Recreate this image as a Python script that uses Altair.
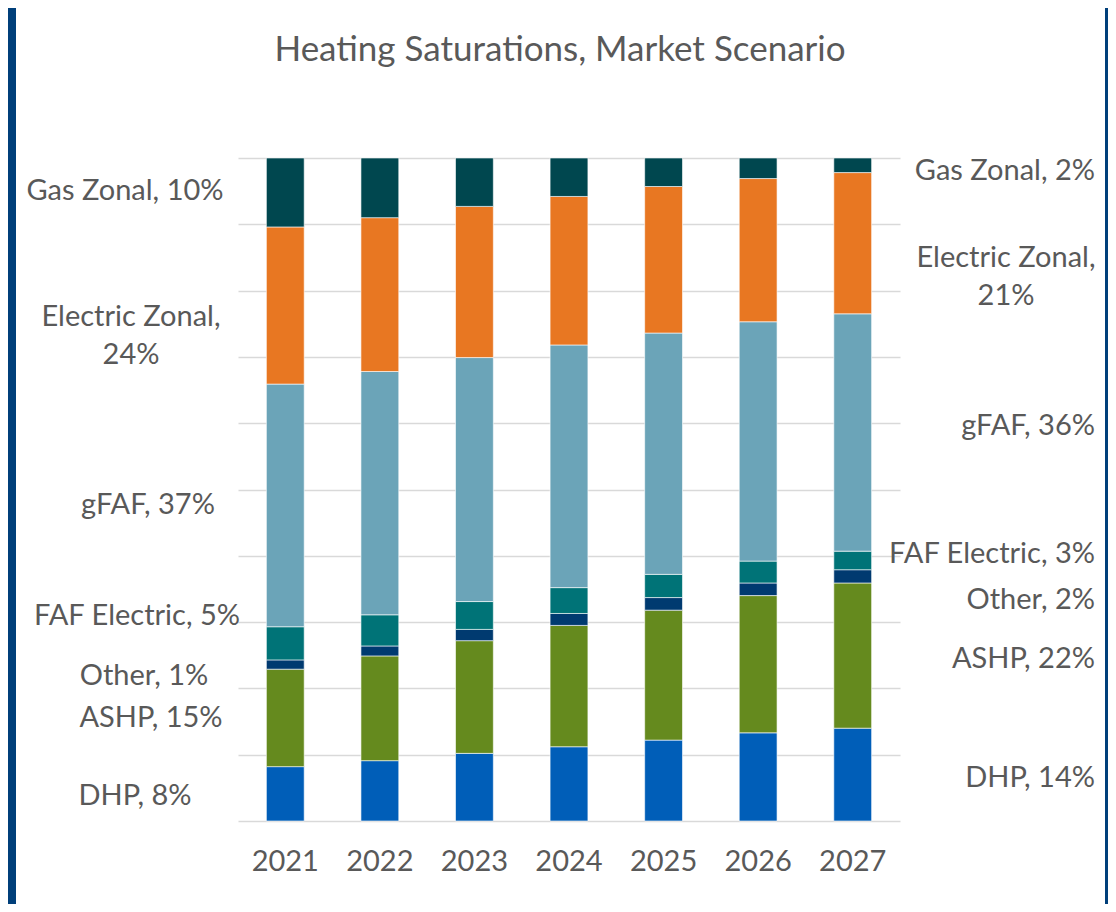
import altair as alt
import pandas as pd

# ---------------- data ----------------
years = ["2021", "2022", "2023", "2024", "2025", "2026", "2027"]
categories = ["DHP", "ASHP", "Other", "FAF Electric", "gFAF", "Electric Zonal", "Gas Zonal"]
dhp = [8.2, 9.1, 10.2, 11.2, 12.2, 13.3, 14.0]
ashp = [14.7, 15.8, 17.0, 18.3, 19.6, 20.7, 21.9]
other = [1.4, 1.5, 1.7, 1.8, 1.9, 1.9, 2.0]
faf_electric = [5.0, 4.7, 4.2, 3.9, 3.5, 3.3, 2.8]
gfaf = [36.6, 36.7, 36.8, 36.6, 36.4, 36.1, 35.8]
electric_zonal = [23.7, 23.2, 22.8, 22.4, 22.1, 21.6, 21.3]
gas_zonal = [10.4, 9.0, 7.3, 5.8, 4.3, 3.1, 2.2]
colors = ["#005EB8", "#658A1E", "#003A70", "#007377", "#6BA4B8", "#E87722", "#00474F"]
title_text = "Heating Saturations, Market Scenario"

series = [dhp, ashp, other, faf_electric, gfaf, electric_zonal, gas_zonal]

# ---------------- layout constants ----------------
TEXT = "#595959"
FONT = "Lato"
PLOT_W, PLOT_H = 662, 663
PAD = {"left": 230, "top": 150, "right": 208, "bottom": 83}
BORDER = "#003F7A"
# label nudges (percentage points) relative to segment midpoints
left_nudge = {"Gas Zonal": 0.2, "Electric Zonal": -1.75, "gFAF": 0.1, "FAF Electric": 4.1,
              "Other": -1.8, "ASHP": 0.0, "DHP": -0.4}
right_nudge = {"Gas Zonal": -0.8, "Electric Zonal": -2.2, "gFAF": 1.05, "FAF Electric": 0.9,
               "Other": -3.5, "ASHP": -0.45, "DHP": -0.5}
# horizontal anchor of labels, pixels relative to the plot's left edge
left_x = {"Gas Zonal": -113, "Electric Zonal": -107, "gFAF": -90, "FAF Electric": -101,
          "Other": -94, "ASHP": -87, "DHP": -103}
right_x = {"Gas Zonal": 857, "Electric Zonal": 768, "gFAF": 857, "FAF Electric": 857,
           "Other": 857, "ASHP": 857, "DHP": 857}

# ---------------- tables ----------------
rows = []
for ci, (cat, vals) in enumerate(zip(categories, series)):
    for yi, yr in enumerate(years):
        rows.append({"year": yr, "category": cat, "value": vals[yi], "order": ci})
df = pd.DataFrame(rows)


def label_table(year_index, nudges, xs):
    out = []
    cum = 0.0
    for cat, vals in zip(categories, series):
        v = vals[year_index]
        mid = cum + v / 2
        cum += v
        sep = ",\n" if cat == "Electric Zonal" else ", "
        out.append({"category": cat, "label": f"{cat}{sep}{v:.0f}%",
                    "ypos": mid + nudges[cat], "xpos": xs[cat]})
    return pd.DataFrame(out)


left_df = label_table(0, left_nudge, left_x)
right_df = label_table(len(years) - 1, right_nudge, right_x)

y_scale = alt.Scale(domain=[0, 100], nice=False, zero=True)

bars = alt.Chart(df).mark_bar(stroke="white", strokeWidth=0.6).encode(
    x=alt.X("year:N", sort=years,
            scale=alt.Scale(paddingInner=0.6, paddingOuter=0.3),
            axis=alt.Axis(title=None, labelAngle=0, ticks=False, domain=False, grid=False,
                          labelFont=FONT, labelFontSize=29, labelColor=TEXT, labelPadding=26)),
    y=alt.Y("value:Q", stack="zero", scale=y_scale,
            axis=alt.Axis(title=None, labels=False, ticks=False, domain=False,
                          values=list(range(0, 101, 10)), grid=True,
                          gridColor="#D9D9D9", gridWidth=1.5)),
    color=alt.Color("category:N", sort=categories,
                    scale=alt.Scale(domain=categories, range=colors), legend=None),
    order=alt.Order("order:Q", sort="ascending"),
)

text_style = dict(font=FONT, fontSize=29, color=TEXT, baseline="middle", lineBreak="\n", lineHeight=38)

left_labels = alt.Chart(left_df).mark_text(align="center", **text_style).encode(
    x=alt.X("xpos:Q", scale=None),
    y=alt.Y("ypos:Q", scale=y_scale),
    text="label:N",
)

right_labels = alt.Chart(right_df).transform_filter(
    alt.datum.category != "Electric Zonal"
).mark_text(align="right", **text_style).encode(
    x=alt.X("xpos:Q", scale=None),
    y=alt.Y("ypos:Q", scale=y_scale),
    text="label:N",
)

right_ez = alt.Chart(right_df).transform_filter(
    alt.datum.category == "Electric Zonal"
).mark_text(align="center", **text_style).encode(
    x=alt.X("xpos:Q", scale=None),
    y=alt.Y("ypos:Q", scale=y_scale),
    text="label:N",
)

one = pd.DataFrame({"t": [title_text]})
title = alt.Chart(one).mark_text(font=FONT, fontSize=35, color=TEXT, baseline="middle",
                                 align="center").encode(
    x=alt.value(322), y=alt.value(-108), text="t:N")

left_strip = alt.Chart(one).mark_rect(color=BORDER, clip=False).encode(
    x=alt.value(-230), x2=alt.value(-222), y=alt.value(-150), y2=alt.value(746))
right_strip = alt.Chart(one).mark_rect(color=BORDER, clip=False).encode(
    x=alt.value(867), x2=alt.value(870), y=alt.value(-150), y2=alt.value(746))

chart = alt.layer(bars, left_labels, right_labels, right_ez, title, left_strip, right_strip).properties(
    width=PLOT_W, height=PLOT_H,
    autosize=alt.AutoSizeParams(type="none"),
    padding=PAD,
    background="white",
).configure_view(stroke=None)

chart.save("out.html", embed_options={"renderer": "svg", "actions": False})
